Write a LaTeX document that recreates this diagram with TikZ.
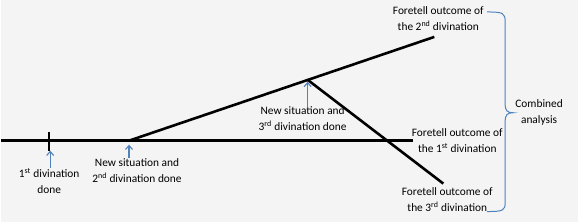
\documentclass[tikz,border=0pt]{standalone}
\usepackage{fontspec}
\setmainfont{Carlito}
\usetikzlibrary{arrows.meta}
\definecolor{paper}{RGB}{244,244,244}
\definecolor{officeblue}{RGB}{79,129,189}

\begin{document}
\begin{tikzpicture}[x=1pt,y=-1pt,
  timeline/.style={line width=2.6pt,black},
  pointer/.style={officeblue,line width=1.1pt,-{Straight Barb[length=4pt,width=7pt]}},
  note/.style={align=center,font=\fontsize{11.4}{16}\selectfont,inner sep=0pt}]
\fill[paper](0,0)rectangle(578,222);
% branch points of the time line
\coordinate (start) at (0,141);
\coordinate (first) at (48,141);
\coordinate (second) at (128,141);
\coordinate (third) at (307,80);
\coordinate (endone) at (413,141);
\coordinate (endtwo) at (434,37);
\coordinate (endthree) at (443,184);
\coordinate (ticktop) at (48,132);
\coordinate (tickbot) at (48,151);
\draw[timeline](start)--(endone);
\draw[timeline](ticktop)--(tickbot);
\draw[timeline](second)--(endtwo);
\draw[timeline](third)--(endthree);
% divination labels
\node[note] (divone) at (48,181) {1\textsuperscript{st} divination\\done};
\node[note] (divtwo) at (136,171) {New situation and\\2\textsuperscript{nd} divination done};
\node[note] (divthree) at (302,119) {New situation and\\3\textsuperscript{rd} divination done};
\coordinate (tipone) at (49,151);
\coordinate (tiptwo) at (128,145);
\coordinate (tipthree) at (307,82);
\draw[pointer](divone.north -| tipone)--(tipone);
\draw[pointer](divtwo.north -| tiptwo)--(tiptwo);
\draw[pointer](divthree.north -| tipthree)--(tipthree);
% outcomes
\node[note] (outtwo) at (438,19) {Foretell outcome of\\the 2\textsuperscript{nd} divination};
\node[note] (outone) at (457,141) {Foretell outcome of\\the 1\textsuperscript{st} divination};
\node[note] (outthree) at (447,200) {Foretell outcome of\\the 3\textsuperscript{rd} divination};
% brace
\coordinate (bracetop) at (487,12);
\coordinate (bracetip) at (513,113);
\coordinate (bracebot) at (487,212);
\draw[officeblue,line width=1pt](bracetop)..controls (503,12) and (505,13)..(505,22)
  --(505,104)..controls (505,111) and (507,113)..(bracetip)
  ..controls (507,113) and (505,115)..(505,122)
  --(505,203)..controls (505,211) and (503,212)..(bracebot);
\node[note] (combined) at (539,113) {Combined\\analysis};
\end{tikzpicture}
\end{document}
